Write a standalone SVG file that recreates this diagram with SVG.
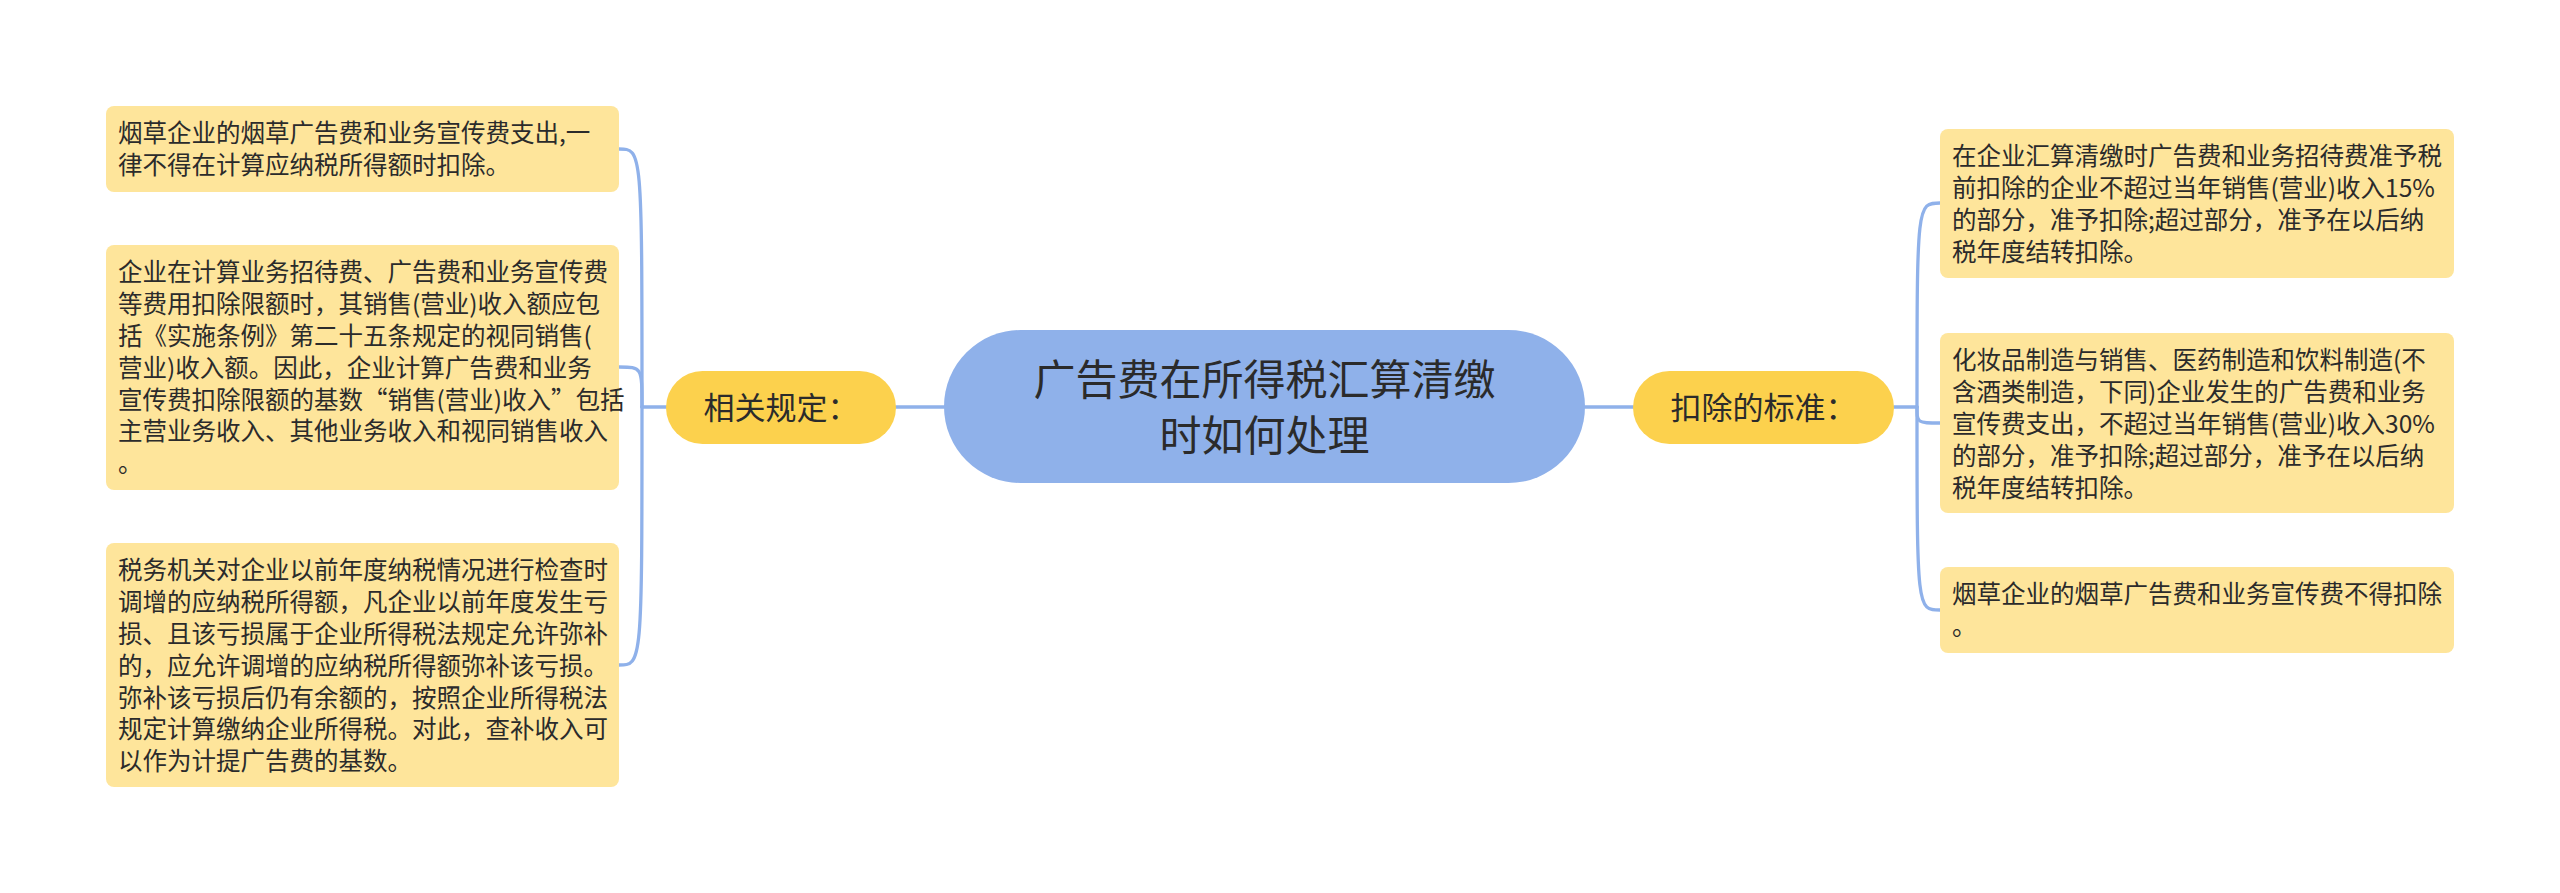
<svg xmlns="http://www.w3.org/2000/svg" width="2560" height="893" viewBox="0 0 2560 893">
<style>
.leaf{fill:#FEE59B;}
.mid{fill:#FCD14D;}
.root{fill:#8FB1EA;}
.t{font-family:"Noto Sans CJK SC","Noto Sans",sans-serif;fill:#2b2b2b;}
.lt{font-size:24.5px;}
.mt{font-size:31px;text-anchor:middle;}
.rt{font-size:42px;text-anchor:middle;}
.c{fill:none;stroke:#8FB1EA;stroke-width:3.3;stroke-linecap:round;}
</style>
<rect width="2560" height="893" fill="#ffffff"/>
<g id="connectors">
<path class="c" d="M944 407 H896"/>
<path class="c" d="M1585 407 H1633"/>
<path class="c" d="M666 407 H642"/>
<path class="c" d="M642 407 C642 149 642 149 619 149"/>
<path class="c" d="M642 407 C642 367 642 367 619 367"/>
<path class="c" d="M642 407 C642 665 642 665 619 665"/>
<path class="c" d="M1894 407 H1917"/>
<path class="c" d="M1917 407 C1917 203 1917 203 1940 203"/>
<path class="c" d="M1917 407 C1917 423 1917 423 1940 423"/>
<path class="c" d="M1917 407 C1917 610 1917 610 1940 610"/>
</g>
<g id="root">
<rect class="root" x="944" y="330" width="641" height="153" rx="76.5"/>
<text class="t rt"><tspan x="1264.5" y="395">广告费在所得税汇算清缴</tspan><tspan x="1264.5" y="451">时如何处理</tspan></text>
</g>
<g id="node-left">
<rect class="mid" x="666" y="371" width="230" height="73" rx="36.5"/>
<text class="t mt" x="781" y="419">相关规定：</text>
</g>
<g id="node-right">
<rect class="mid" x="1633" y="371" width="261" height="73" rx="36.5"/>
<text class="t mt" x="1763.5" y="419">扣除的标准：</text>
</g>
<g id="leaf-l1">
<rect class="leaf" x="106" y="106" width="513" height="86" rx="8"/>
<text class="t lt"><tspan x="118" y="142.4">烟草企业的烟草广告费和业务宣传费支出,一</tspan><tspan x="118" y="174.2">律不得在计算应纳税所得额时扣除。</tspan></text>
</g>
<g id="leaf-l2">
<rect class="leaf" x="106" y="245" width="513" height="245" rx="8"/>
<text class="t lt"><tspan x="118" y="281.4">企业在计算业务招待费、广告费和业务宣传费</tspan><tspan x="118" y="313.2">等费用扣除限额时，其销售(营业)收入额应包</tspan><tspan x="118" y="345">括《实施条例》第二十五条规定的视同销售(</tspan><tspan x="118" y="376.8">营业)收入额。因此，企业计算广告费和业务</tspan><tspan x="118" y="408.6">宣传费扣除限额的基数“销售(营业)收入”包括</tspan><tspan x="118" y="440.4">主营业务收入、其他业务收入和视同销售收入</tspan><tspan x="118" y="472.2">。</tspan></text>
</g>
<g id="leaf-l3">
<rect class="leaf" x="106" y="543" width="513" height="244" rx="8"/>
<text class="t lt"><tspan x="118" y="579.4">税务机关对企业以前年度纳税情况进行检查时</tspan><tspan x="118" y="611.2">调增的应纳税所得额，凡企业以前年度发生亏</tspan><tspan x="118" y="643">损、且该亏损属于企业所得税法规定允许弥补</tspan><tspan x="118" y="674.8">的，应允许调增的应纳税所得额弥补该亏损。</tspan><tspan x="118" y="706.6">弥补该亏损后仍有余额的，按照企业所得税法</tspan><tspan x="118" y="738.4">规定计算缴纳企业所得税。对此，查补收入可</tspan><tspan x="118" y="770.2">以作为计提广告费的基数。</tspan></text>
</g>
<g id="leaf-r1">
<rect class="leaf" x="1940" y="129" width="514" height="149" rx="8"/>
<text class="t lt"><tspan x="1952" y="165.4">在企业汇算清缴时广告费和业务招待费准予税</tspan><tspan x="1952" y="197.2">前扣除的企业不超过当年销售(营业)收入15%</tspan><tspan x="1952" y="229">的部分，准予扣除;超过部分，准予在以后纳</tspan><tspan x="1952" y="260.8">税年度结转扣除。</tspan></text>
</g>
<g id="leaf-r2">
<rect class="leaf" x="1940" y="333" width="514" height="180" rx="8"/>
<text class="t lt"><tspan x="1952" y="369.4">化妆品制造与销售、医药制造和饮料制造(不</tspan><tspan x="1952" y="401.2">含酒类制造，下同)企业发生的广告费和业务</tspan><tspan x="1952" y="433">宣传费支出，不超过当年销售(营业)收入30%</tspan><tspan x="1952" y="464.8">的部分，准予扣除;超过部分，准予在以后纳</tspan><tspan x="1952" y="496.6">税年度结转扣除。</tspan></text>
</g>
<g id="leaf-r3">
<rect class="leaf" x="1940" y="567" width="514" height="86" rx="8"/>
<text class="t lt"><tspan x="1952" y="603.4">烟草企业的烟草广告费和业务宣传费不得扣除</tspan><tspan x="1952" y="635.2">。</tspan></text>
</g>
</svg>
